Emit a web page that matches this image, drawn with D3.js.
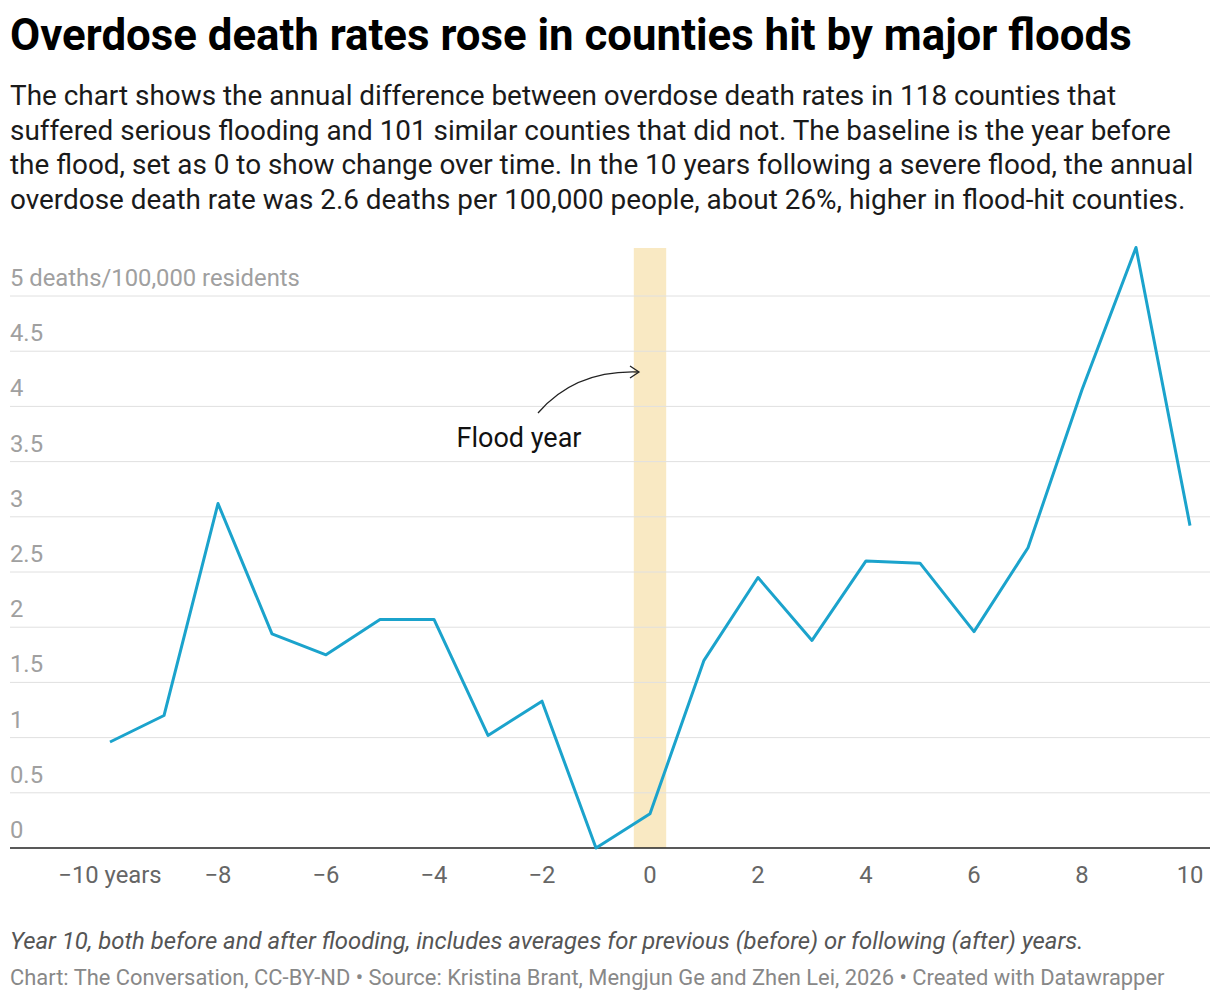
<!DOCTYPE html>
<html><head><meta charset="utf-8">
<script src="https://cdn.jsdelivr.net/npm/d3@7"></script>
<style>
body{margin:0;background:#fff;font-family:Roboto,sans-serif;}
</style></head><body>
<svg id="chart" width="1220" height="1002"></svg>
<script>
const years = [-10,-9,-8,-7,-6,-5,-4,-3,-2,-1,0,1,2,3,4,5,6,7,8,9,10];
const diffs = [0.96,1.2,3.12,1.94,1.75,2.07,2.07,1.02,1.33,0,0.31,1.7,2.45,1.88,2.6,2.58,1.96,2.72,4.15,5.44,2.92];
const yTicks = [0,0.5,1,1.5,2,2.5,3,3.5,4,4.5,5];
const xTicks = [-10,-8,-6,-4,-2,0,2,4,6,8,10];

const svg = d3.select('#chart');
const x = d3.scaleLinear().domain([-10,10]).range([110,1190]);
const y = d3.scaleLinear().domain([0,5]).range([848,296]);

svg.append('text').attr('x',10).attr('y',50).attr('font-size',43.8).attr('font-weight',700)
  .attr('fill','#000').text('Overdose death rates rose in counties hit by major floods');
const sub = ['The chart shows the annual difference between overdose death rates in 118 counties that',
 'suffered serious flooding and 101 similar counties that did not. The baseline is the year before',
 'the flood, set as 0 to show change over time. In the 10 years following a severe flood, the annual',
 'overdose death rate was 2.6 deaths per 100,000 people, about 26%, higher in flood-hit counties.'];
svg.selectAll('.sub').data(sub).enter().append('text')
  .attr('x',10).attr('y',(d,i)=>105+i*34.5).attr('font-size',27.9).attr('fill','#1a1a1a').text(d=>d);

// flood band
svg.append('rect').attr('x',x(-0.3)).attr('width',x(0.3)-x(-0.3))
  .attr('y',248).attr('height',848-248).attr('fill','#f9e9c3');

// grid
svg.selectAll('.grid').data(yTicks.filter(d=>d>0)).enter().append('line')
  .attr('x1',10).attr('x2',1210).attr('y1',d=>y(d)).attr('y2',d=>y(d))
  .attr('stroke','#e0e0e0').attr('stroke-width',1);
svg.selectAll('.ylab').data(yTicks).enter().append('text')
  .attr('x',10).attr('y',d=>y(d)-10).attr('font-size',23.8).attr('fill','#a0a0a0')
  .text(d=>d===5?'5 deaths/100,000 residents':d);

svg.append('line').attr('x1',10).attr('x2',1210).attr('y1',y(0)).attr('y2',y(0))
  .attr('stroke','#222').attr('stroke-width',1.5);

svg.selectAll('.xlab').data(xTicks).enter().append('text')
  .attr('x',d=>x(d)).attr('y',883).attr('text-anchor','middle').attr('font-size',23.8).attr('fill','#666')
  .text(d=>d===-10?'\u221210 years':(d<0?'\u2212'+(-d):d));

const line = d3.line().x((d,i)=>x(years[i])).y(d=>y(d));
svg.append('path').datum(diffs).attr('d',line).attr('fill','none')
  .attr('stroke','#1ba3cc').attr('stroke-width',3).attr('stroke-linejoin','round');

// annotation
svg.append('text').attr('x',519).attr('y',447).attr('text-anchor','middle').attr('font-size',27)
  .attr('fill','#111').text('Flood year');
svg.append('path').attr('d','M538,413 Q575,370 638,372').attr('fill','none').attr('stroke','#222').attr('stroke-width',1.3);
svg.append('path').attr('d','M630,366 L639,372 L630,378').attr('fill','none').attr('stroke','#222').attr('stroke-width',1.3);

svg.append('text').attr('x',10).attr('y',949).attr('font-size',23.9).attr('font-style','italic').attr('fill','#555')
  .text('Year 10, both before and after flooding, includes averages for previous (before) or following (after) years.');
svg.append('text').attr('x',10).attr('y',985).attr('font-size',21.9).attr('fill','#888')
  .text('Chart: The Conversation, CC-BY-ND \u2022 Source: Kristina Brant, Mengjun Ge and Zhen Lei, 2026 \u2022 Created with Datawrapper');
</script></body></html>
